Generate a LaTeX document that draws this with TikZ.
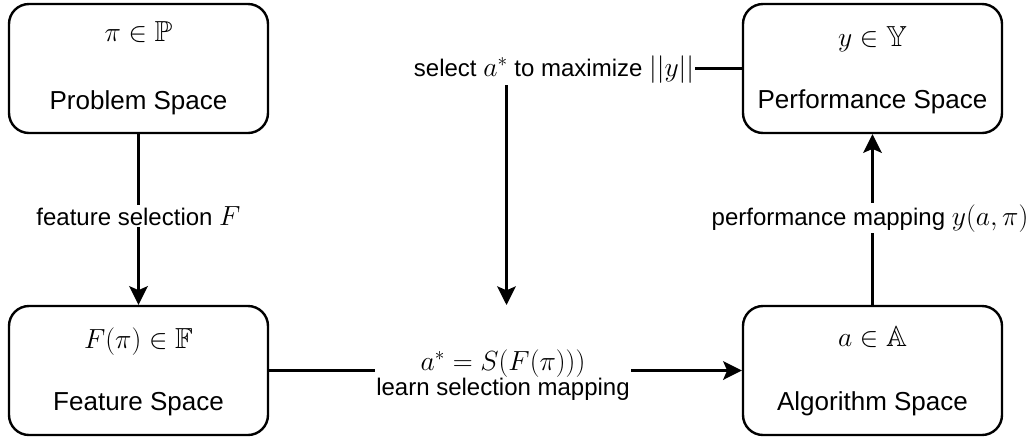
\documentclass[tikz,border=0pt]{standalone}
\usepackage{amssymb}
\usepackage{fontspec}
\setmainfont{Liberation Sans}
\usetikzlibrary{arrows.meta}

% math set a little larger than the surrounding text
\newcommand\mth[1]{{\fontsize{21.75}{26}\selectfont$#1$}}

\begin{document}
\begin{tikzpicture}[x=0.75pt,y=-0.75pt,
  spacebox/.style={draw, line width=1.8pt, rounded corners=15pt,
    minimum width=194.25pt, minimum height=96.75pt, inner sep=0pt},
  boxtext/.style={anchor=base, inner sep=0pt, font=\fontsize{19.5}{23}\selectfont},
  boxmath/.style={anchor=base, inner sep=0pt, font=\fontsize{21.75}{26}\selectfont},
  edgelbl/.style={anchor=base, fill=white, inner sep=1pt, font=\fontsize{18}{22}\selectfont},
  arr/.style={line width=1.8pt, -{Stealth[length=14pt, width=14pt, inset=3pt]}}]

\useasboundingbox (0,0) rectangle (1032,437);

% the four spaces
\node[spacebox] (prob) at (138.5,68.5) {};
\node[spacebox] (perf) at (872.5,68.5) {};
\node[spacebox] (feat) at (138.5,370.5) {};
\node[spacebox] (algo) at (872.5,370.5) {};

\node[boxmath] (probm) at (138.5,41.5) {$\pi \in \mathbb{P}$};
\node[boxtext] (probt) at (138.5,109) {Problem Space};
\node[boxmath] (perfm) at (872.5,46.5) {$y \in \mathbb{Y}$};
\node[boxtext] (perft) at (872.5,108) {Performance Space};
\node[boxmath] (featm) at (138.5,348) {$F(\pi) \in \mathbb{F}$};
\node[boxtext] (featt) at (138.5,410) {Feature Space};
\node[boxmath] (algom) at (872.5,346.5) {$a \in \mathbb{A}$};
\node[boxtext] (algot) at (872.5,410) {Algorithm Space};

% connectors
\draw[arr] (prob) -- (feat);
\draw[arr] (algo) -- (perf);
\draw[arr] (feat) -- (algo);
\coordinate (selc) at (506.5,68.5);
\coordinate (selend) at (506.5,305);
\draw[arr] (perf.west) -- (selc) -- (selend);

% connector labels
\node[edgelbl] (fsel) at (138.5,225) {feature selection \mth{F}};
\node[edgelbl] (pmap) at (870,225) {performance mapping \mth{y(a, \pi)}};
\node[edgelbl] (sela) at (554,76.5) {select \mth{a^*} to maximize \mth{||y||}};
\node[edgelbl, align=center, anchor=center] (lsel) at (503,375)
  {\mth{a^* = S(F(\pi)))}\\[-3pt]learn selection mapping};

\end{tikzpicture}
\end{document}
